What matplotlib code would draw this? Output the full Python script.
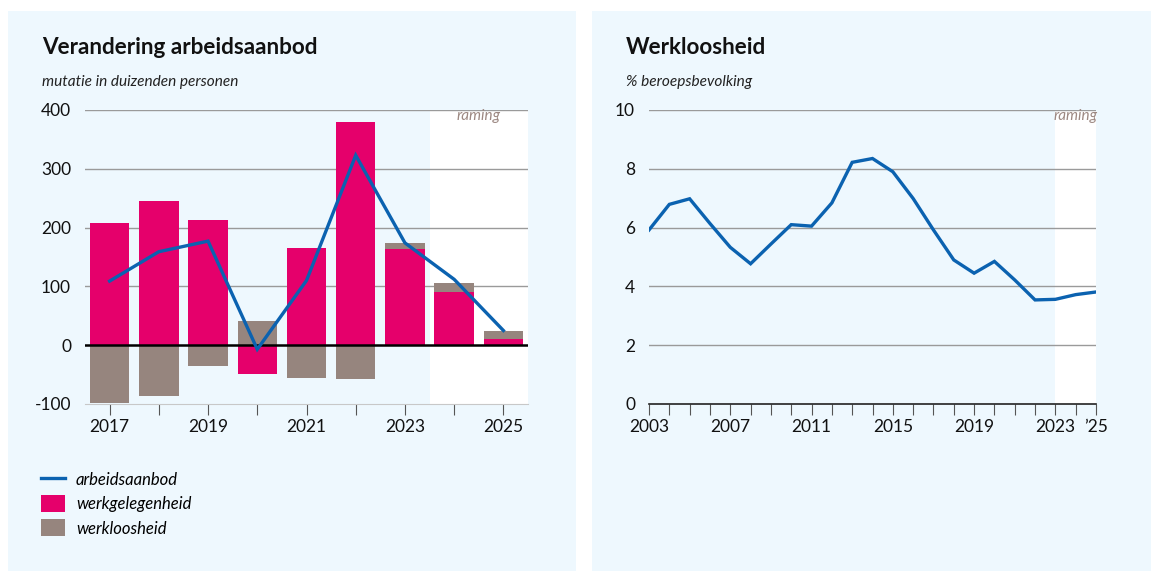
import matplotlib
matplotlib.use("Agg")
import matplotlib.pyplot as plt
from matplotlib.patches import Rectangle, Patch
from matplotlib.lines import Line2D

# ---------------- data ----------------
bar_years = [2017, 2018, 2019, 2020, 2021, 2022, 2023, 2024, 2025]
werkgelegenheid = [207, 246, 213, -49, 166, 379, 164, 91, 10]
werkloosheid_bar = [-99, -86, -35, 42, -56, -57, 9, 15, 15]
arbeidsaanbod = [109, 159, 177, -7, 110, 323, 174, 112, 25]

ww_years = list(range(2003, 2026))
ww_values = [5.92, 6.79, 6.98, 6.14, 5.33, 4.77, 5.44, 6.10, 6.05, 6.84, 8.22,
             8.35, 7.90, 6.99, 5.92, 4.90, 4.45, 4.85, 4.22, 3.54, 3.56, 3.72, 3.81]

left_yticks = [400, 300, 200, 100, 0, -100]
left_xlabels = ["2017", "", "2019", "", "2021", "", "2023", "", "2025"]
right_yticks = [0, 2, 4, 6, 8, 10]
right_xlabel_years = [2003, 2007, 2011, 2015, 2019, 2023, 2025]
right_xlabels = ["2003", "2007", "2011", "2015", "2019", "2023", "\u201925"]

# ---------------- style ----------------
BG = "#EEF8FE"
PINK = "#E5006B"
GREY = "#96857E"
BLUE = "#0B62B0"
GRID = "#9A9A9A"
RAM = "#9C8882"
FONT = "Lato"

plt.rcParams["font.family"] = [FONT, "DejaVu Sans"]

W, H = 1151, 571
fig = plt.figure(figsize=(W / 100, H / 100), dpi=100, facecolor="white")

def px(x0, y0, x1, y1):
    return [x0 / W, 1 - y1 / H, (x1 - x0) / W, (y1 - y0) / H]

# panel backgrounds
fig.add_artist(Rectangle((8 / W, 0), (576 - 8) / W, 1 - 11 / H, transform=fig.transFigure,
                         facecolor=BG, edgecolor="none", zorder=-10))
fig.add_artist(Rectangle((592 / W, 0), (W - 592) / W, 1 - 11 / H, transform=fig.transFigure,
                         facecolor=BG, edgecolor="none", zorder=-10))

# titles
fig.text(42 / W, 1 - 47 / H, "Verandering arbeidsaanbod", fontsize=16.2, fontweight="bold",
         va="center", ha="left", color="#111111")
fig.text(42 / W, 1 - 82 / H, "mutatie in duizenden personen", fontsize=11.1, style="italic",
         va="center", ha="left", color="#222222")
fig.text(626 / W, 1 - 47 / H, "Werkloosheid", fontsize=16.2, fontweight="bold",
         va="center", ha="left", color="#111111")
fig.text(626 / W, 1 - 82 / H, "% beroepsbevolking", fontsize=11.1, style="italic",
         va="center", ha="left", color="#222222")

# ---------------- left chart ----------------
ax = fig.add_axes(px(85, 110, 528, 404))
ax.set_facecolor("none")
ax.set_xlim(2016.5, 2025.5)
ax.set_ylim(-100, 400)
ax.axvspan(2023.5, 2025.5, facecolor="white", edgecolor="none", zorder=0)
for v in [100, 200, 300, 400]:
    ax.axhline(v, color=GRID, lw=1, zorder=1)

# stack: negative and positive parts separately
pos_base = [0] * len(bar_years)
neg_base = [0] * len(bar_years)
wg_bottom = []
for i, v in enumerate(werkgelegenheid):
    if v >= 0:
        wg_bottom.append(pos_base[i]); pos_base[i] += v
    else:
        wg_bottom.append(neg_base[i]); neg_base[i] += v
wl_bottom = []
for i, v in enumerate(werkloosheid_bar):
    if v >= 0:
        wl_bottom.append(pos_base[i]); pos_base[i] += v
    else:
        wl_bottom.append(neg_base[i]); neg_base[i] += v

ax.bar(bar_years, werkgelegenheid, bottom=wg_bottom, width=0.8, color=PINK, zorder=2)
ax.bar(bar_years, werkloosheid_bar, bottom=wl_bottom, width=0.8, color=GREY, zorder=2)
ax.axhline(0, color="black", lw=1.8, zorder=3)
ax.plot(bar_years, arbeidsaanbod, color=BLUE, lw=2.4, zorder=4, solid_joinstyle="miter")

ax.text(2024.5, 390, "raming", style="italic", color=RAM, fontsize=11, ha="center", va="center")

ax.set_yticks(left_yticks)
ax.set_yticklabels([str(v) for v in left_yticks])
ax.set_xticks(bar_years)
ax.set_xticklabels(left_xlabels)
for s in ["top", "right", "left"]:
    ax.spines[s].set_visible(False)
ax.spines["bottom"].set_color("#C8C8C8")
ax.tick_params(axis="y", length=0, pad=10, labelsize=12.5, colors="#111111")
ax.tick_params(axis="x", length=8, width=0.8, color="#555555", pad=3, labelsize=12.5,
               labelcolor="#111111")

# legend
handles = [Line2D([0], [0], color=BLUE, lw=2.4),
           Patch(facecolor=PINK, edgecolor="none"),
           Patch(facecolor=GREY, edgecolor="none")]
labels = ["arbeidsaanbod", "werkgelegenheid", "werkloosheid"]
leg = fig.legend(handles, labels, loc="upper left", bbox_to_anchor=(26 / W, 1 - 456 / H),
                 frameon=False, prop={"style": "italic", "size": 12},
                 handlelength=1.45, handleheight=1.2, handletextpad=0.65, labelspacing=0.42)

# ---------------- right chart ----------------
ax2 = fig.add_axes(px(649, 110, 1096, 404))
ax2.set_facecolor("none")
ax2.set_xlim(2003, 2025)
ax2.set_ylim(0, 10)
ax2.axvspan(2023, 2025, facecolor="white", edgecolor="none", zorder=0)
for v in [2, 4, 6, 8, 10]:
    ax2.axhline(v, color=GRID, lw=1, zorder=1)
ax2.plot(ww_years, ww_values, color=BLUE, lw=2.4, zorder=4, solid_joinstyle="miter")
ax2.text(2024, 9.8, "raming", style="italic", color=RAM, fontsize=11, ha="center", va="center")

ax2.set_yticks(right_yticks)
ax2.set_yticklabels([str(v) for v in right_yticks])
ax2.set_xticks(ww_years, minor=True)
ax2.set_xticks(right_xlabel_years)
ax2.set_xticklabels(right_xlabels)
for s in ["top", "right", "left"]:
    ax2.spines[s].set_visible(False)
ax2.spines["bottom"].set_color("#222222")
ax2.spines["bottom"].set_linewidth(1.2)
ax2.tick_params(axis="y", length=0, pad=10, labelsize=12.5, colors="#111111")
ax2.tick_params(axis="x", which="both", length=8, width=0.8, color="#555555", pad=3,
                labelsize=12.5, labelcolor="#111111")

fig.savefig("out.png", dpi=100, facecolor="white")
